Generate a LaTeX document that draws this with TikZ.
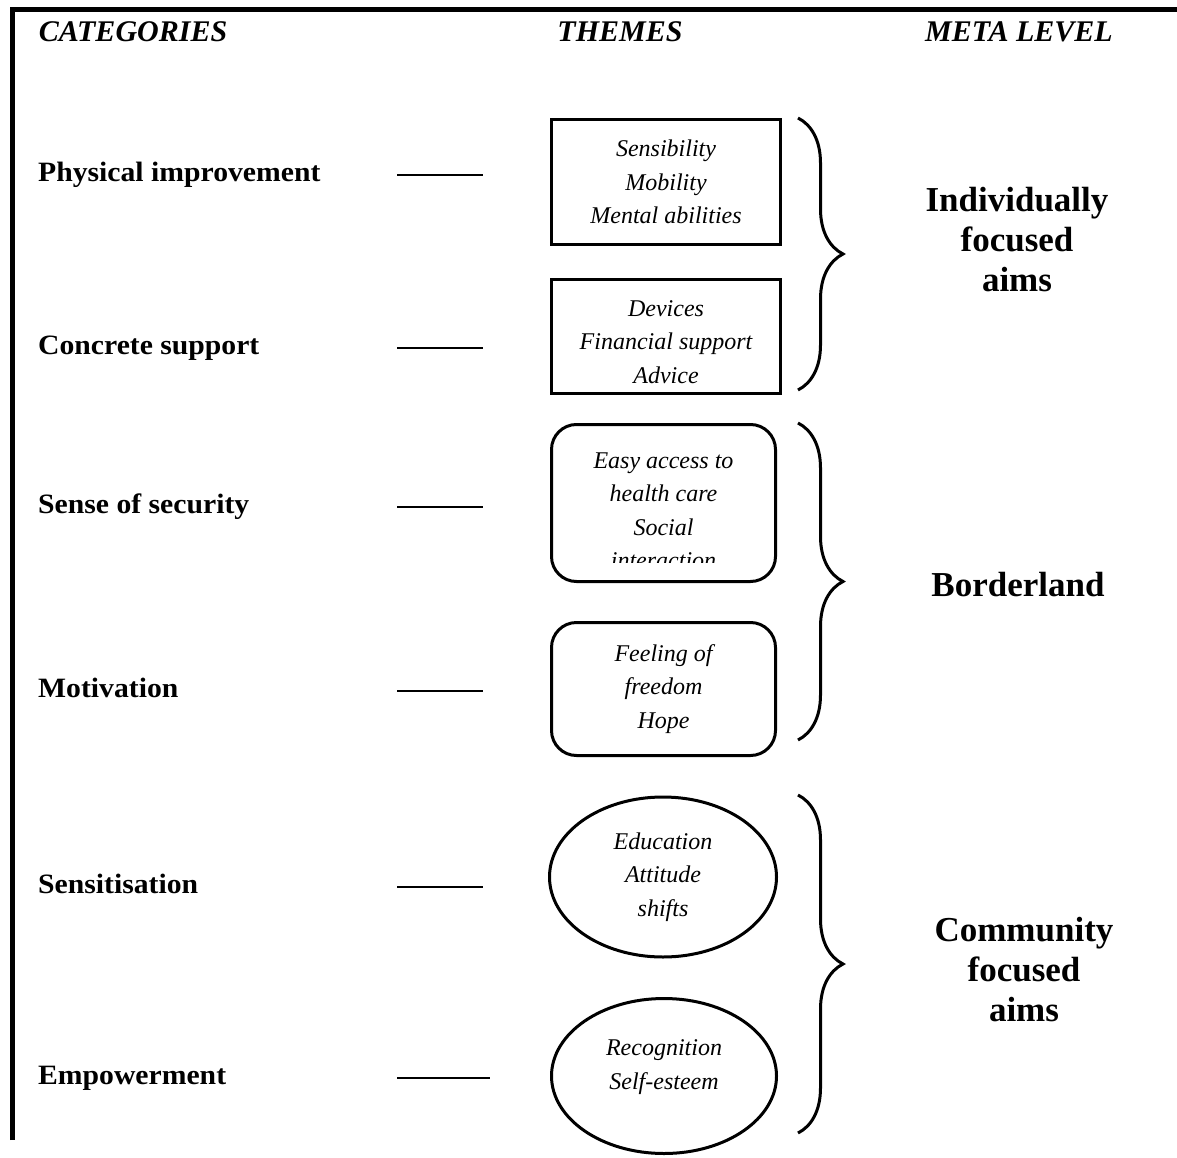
\documentclass[tikz,border=0pt]{standalone}
\usepackage{fontspec}
\setmainfont{Liberation Serif}
\newfontfamily\catfont[FakeStretch=1.06]{Liberation Serif}
\usetikzlibrary{shapes.geometric, positioning, decorations.pathreplacing}

\begin{document}
\begin{tikzpicture}[x=1pt, y=-1pt,
        header/.style={font=\fontsize{30}{36}\selectfont\bfseries\itshape, anchor=base, inner sep=0pt},
        category/.style={font=\catfont\fontsize{28}{33}\selectfont\bfseries, anchor=west, inner sep=0pt, text height=19pt, text depth=6pt},
        theme/.style={draw, line width=3pt, inner sep=0pt, align=center, font=\fontsize{24}{33.5}\selectfont\itshape},
        themetext/.style={inner sep=0pt, align=center, font=\fontsize{24}{33.5}\selectfont\itshape},
        metatext/.style={align=center, inner sep=0pt, font=\fontsize{35}{40}\selectfont\bfseries},
        stub/.style={line width=2pt},
        metabrace/.style={decorate, decoration={brace, amplitude=45pt}, line width=3pt}]
        \useasboundingbox (0,0) rectangle (1177,1158);

        % Frame
        \draw[line width=5pt] (12,1140) -- (12,10) -- (1177,10);

        % Headers
        \node[header] (cathead) at (133,42) {CATEGORIES};
        \node[header] (themehead) at (620,42) {THEMES};
        \node[header] (metahead) at (1019,42) {META LEVEL};

        % Categories
        \node[category] (physical) at (38,175) {Physical improvement};
        \node[category] (concrete) at (38,348) {Concrete support};
        \node[category] (security) at (38,507) {Sense of security};
        \node[category] (motivation) at (38,691) {Motivation};
        \node[category] (sensitisation) at (38,887) {Sensitisation};
        \node[category] (empowerment) at (38,1078) {Empowerment};

        % Themes
        \node[theme, rectangle, minimum width=229pt, minimum height=125pt] (abilities) at (666,182) {Sensibility\\Mobility\\Mental abilities};
        \node[theme, rectangle, minimum width=229pt, minimum height=114pt] (support) at (666,336.5) {};
        \node[themetext] (supporttext) at (666,342) {Devices\\Financial support\\Advice};
        \begin{scope}
            \clip (550,423) rectangle (777,562);
            \node[themetext] (accesstext) at (663.5,511) {Easy access to\\health care\\Social\\interaction};
        \end{scope}
        \node[theme, rectangle, rounded corners=25pt, minimum width=224pt, minimum height=157pt] (access) at (663.5,503) {};
        \node[theme, rectangle, rounded corners=25pt, minimum width=224pt, minimum height=133pt] (freedom) at (663.5,689) {Feeling of\\freedom\\Hope};
        \node[theme, ellipse, minimum width=227pt, minimum height=160pt] (education) at (663,877) {Education\\Attitude\\shifts};
        \node[theme, ellipse, minimum width=225pt, minimum height=155pt] (recognition) at (664,1076) {};
        \node[themetext, yshift=9pt] (recognitiontext) at (recognition.center) {Recognition\\Self-esteem};

        % Meta level
        \draw[metabrace] (798,118) -- (798,390);
        \draw[metabrace] (798,423) -- (798,740);
        \draw[metabrace] (798,795) -- (798,1133);
        \node[metatext] (individual) at (1017,240) {Individually\\focused\\aims};
        \node[metatext] (borderland) at (1018,585) {Borderland};
        \node[metatext] (community) at (1024,970) {Community\\focused\\aims};

        % Connections
        \coordinate (stubl) at (397,0);
        \coordinate (stubr) at (483,0);
        \draw[stub] (physical.west -| stubl) -- (physical.west -| stubr);
        \draw[stub] (concrete.west -| stubl) -- (concrete.west -| stubr);
        \draw[stub] (security.west -| stubl) -- (security.west -| stubr);
        \draw[stub] (motivation.west -| stubl) -- (motivation.west -| stubr);
        \draw[stub] (sensitisation.west -| stubl) -- (sensitisation.west -| stubr);
        \draw[stub] (empowerment.west -| stubl) -- ([xshift=7pt]empowerment.west -| stubr);
    \end{tikzpicture}
\end{document}
